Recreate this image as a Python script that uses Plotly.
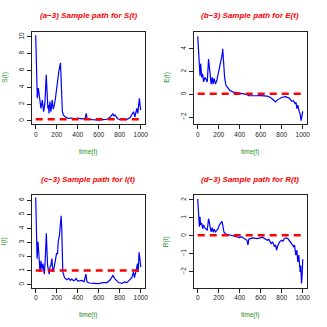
import plotly.graph_objects as go

# sample paths
s_time = [0, 6, 15, 25, 38, 50, 63, 75, 88, 100, 116, 122, 126, 135, 144, 157, 166, 176, 188, 201,
          210, 220, 236, 242, 248, 254, 264, 280, 311, 340, 377, 400, 414, 440, 470, 481, 490, 520, 560, 600,
          640, 680, 707, 720, 735, 745, 755, 780, 800, 830, 866, 899, 931, 945, 962, 972, 987, 997, 1000]
s_vals = [10.2, 5.9, 2.7, 3.9, 2.3, 1.5, 2.5, 1.1, 2.2, 5.5, 1.5, 1.9, 0.9, 2.3, 1.1, 2.5, 1.4, 1.8, 2.7, 4.3,
          4.7, 5.9, 6.9, 5.4, 3.5, 1.1, 0.7, 0.5, 0.3, 0.35, 0.25, 0.35, 0.3, 0.25, 0.3, 0.9, 0.2, 0.15, 0.12, 0.1,
          0.15, 0.2, 0.45, 0.6, 0.85, 0.6, 0.7, 0.3, 0.15, 0.2, 0.15, 0.4, 1.1, 0.5, 1.5, 0.9, 2.7, 1.5, 1.3]

e_time = [0, 9, 16, 22, 28, 38, 47, 56, 68, 81, 91, 103, 119, 128, 138, 147, 156, 169, 181, 194,
          206, 219, 231, 238, 244, 256, 269, 288, 306, 338, 384, 431, 462, 488, 520, 560, 600, 662, 690, 710,
          725, 741, 756, 778, 803, 834, 866, 897, 912, 928, 936, 944, 953, 966, 975, 984, 994, 1000]
e_vals = [5.1, 3.0, 2.7, 1.65, 2.7, 1.5, 1.8, 1.1, 1.5, 1.2, 1.1, 3.1, 1.2, 0.9, 1.5, 0.9, 1.4, 0.9, 1.2, 1.8,
          2.2, 2.7, 3.4, 4.0, 3.2, 1.5, 0.8, 0.6, 0.35, 0.2, 0.15, 0.06, 0.0, -0.1, -0.08, -0.12, -0.1, -0.15, -0.25, -0.4,
          -0.5, -0.65, -0.5, -0.35, -0.25, -0.2, -0.3, -0.6, -0.55, -0.85, -0.7, -1.25, -0.95, -1.5, -1.7, -2.3, -1.8, -1.5]

i_time = [0, 6, 13, 22, 31, 41, 50, 60, 69, 82, 92, 101, 113, 122, 129, 137, 145, 154, 163, 176,
          189, 198, 208, 214, 226, 236, 242, 248, 254, 258, 274, 296, 314, 330, 343, 360, 377, 385, 400, 420,
          440, 460, 478, 487, 510, 550, 600, 640, 679, 710, 725, 735, 750, 766, 788, 820, 850, 868, 893, 915,
          931, 940, 956, 969, 975, 984, 992, 1000]
i_vals = [6.2, 3.5, 1.85, 3.05, 1.5, 0.9, 1.7, 1.1, 1.5, 0.75, 2.0, 3.65, 1.35, 1.0, 0.75, 1.3, 1.4, 1.85, 0.9, 1.25,
          1.7, 2.2, 2.2, 3.05, 3.5, 4.25, 4.9, 4.0, 2.1, 0.9, 0.5, 0.35, 0.45, 0.3, 0.4, 0.28, 0.35, 0.45, 0.25, 0.25,
          0.3, 0.2, 0.75, 0.2, 0.12, 0.1, 0.08, 0.15, 0.15, 0.35, 0.5, 0.65, 0.45, 0.35, 0.15, 0.1, 0.2, 0.15, 0.35, 0.5,
          0.9, 0.5, 1.0, 1.5, 0.9, 2.3, 1.85, 1.25]

r_time = [0, 9, 16, 22, 28, 38, 47, 56, 66, 81, 91, 103, 119, 128, 138, 147, 156, 169, 181, 194,
          206, 219, 231, 238, 250, 269, 291, 322, 353, 384, 400, 416, 447, 469, 478, 487, 522, 569, 616, 663,
          678, 700, 712, 731, 741, 750, 762, 781, 800, 812, 825, 844, 862, 881, 897, 913, 922, 934, 944, 953,
          962, 975, 981, 988, 994, 1000]
r_vals = [2.05, 0.87, 0.5, 1.05, 0.6, 0.7, 0.4, 0.6, 0.45, 0.37, 0.3, 0.95, 0.3, 0.22, 0.45, 0.2, 0.37, 0.22, 0.3, 0.4,
          0.6, 0.7, 0.8, 0.6, 0.2, 0.1, 0.07, 0.03, 0.0, -0.05, -0.1, -0.05, -0.15, -0.25, -0.5, -0.18, -0.12, -0.15, -0.08, -0.25,
          -0.2, -0.43, -0.33, -0.6, -0.5, -0.8, -0.55, -0.33, -0.25, -0.3, -0.15, -0.12, -0.18, -0.33, -0.43, -0.6, -0.52, -1.07, -0.8, -1.45,
          -1.07, -2.0, -1.65, -2.65, -2.2, -1.3]

eq_levels = [0.2, 0.06, 1.0, 0.03]
titles = ["(a\u22123) Sample path for S(t)", "(b\u22123) Sample path for E(t)",
          "(c\u22123) Sample path for I(t)", "(d\u22123) Sample path for R(t)"]
y_labels = ["S(t)", "E(t)", "I(t)", "R(t)"]
x_ticks = [0, 200, 400, 600, 800, 1000]
y_ticks = [[0, 2, 4, 6, 8, 10], [-2, 0, 2, 4], [0, 1, 2, 3, 4, 5, 6], [-2, -1, 0, 1, 2]]
y_ranges = [[-0.36, 10.6], [-2.6, 5.5], [-0.2, 6.35], [-2.87, 2.25]]

paths = [(s_time, s_vals), (e_time, e_vals), (i_time, i_vals), (r_time, r_vals)]
for t, v in paths:
    assert len(t) == len(v)

W = 327.0
panel = W / 2
box_l, box_r, box_t, box_b = 31.8, 146.3, 31.8, 124.0

fig = go.Figure()
layout = dict(width=327, height=327, margin=dict(l=0, r=0, t=0, b=0),
              paper_bgcolor="white", plot_bgcolor="white", showlegend=False,
              font=dict(family="Liberation Sans, Arial, sans-serif"))
annotations = []

for k, (t, v) in enumerate(paths):
    row, col = divmod(k, 2)
    ox, oy = col * panel, row * panel
    n = "" if k == 0 else str(k + 1)
    xa, ya = "x" + n, "y" + n

    fig.add_trace(go.Scatter(x=t, y=v, mode="lines", xaxis=xa, yaxis=ya,
                             line=dict(color="#0000FF", width=1.2)))
    fig.add_trace(go.Scatter(x=[t[0], t[-1]], y=[eq_levels[k]] * 2, mode="lines",
                             xaxis=xa, yaxis=ya,
                             line=dict(color="#FF0000", width=2.5, dash="7px,5px")))

    common = dict(showline=True, mirror=True, linecolor="#222", linewidth=1,
                  ticks="outside", ticklen=4, tickcolor="#222", tickwidth=1,
                  tickfont=dict(size=6.5, color="#222"), showgrid=False, zeroline=False)
    layout["xaxis" + n] = dict(common, domain=[(ox + box_l) / W, (ox + box_r) / W],
                               range=[-40, 1040], tickvals=x_ticks, anchor=ya)
    layout["yaxis" + n] = dict(common, domain=[1 - (oy + box_b) / W, 1 - (oy + box_t) / W],
                               range=y_ranges[k], tickvals=y_ticks[k], tickangle=-90,
                               anchor=xa)

    cx = (ox + (box_l + box_r) / 2) / W
    annotations.append(dict(text="<b><i>" + titles[k] + "</i></b>", x=cx, y=1 - (oy + 16) / W,
                            xref="paper", yref="paper", showarrow=False,
                            xanchor="center", yanchor="middle",
                            font=dict(size=8, color="#FF0000")))
    annotations.append(dict(text="time(t)", x=cx, y=1 - (oy + 151.5) / W,
                            xref="paper", yref="paper", showarrow=False,
                            xanchor="center", yanchor="middle",
                            font=dict(size=6.5, color="#228B22")))
    annotations.append(dict(text=y_labels[k], x=(ox + 4.8) / W,
                            y=1 - (oy + (box_t + box_b) / 2) / W,
                            xref="paper", yref="paper", showarrow=False, textangle=-90,
                            xanchor="center", yanchor="middle",
                            font=dict(size=6.5, color="#228B22")))

layout["annotations"] = annotations
fig.update_layout(**layout)
fig.write_html("out.html", config={"displayModeBar": False},
               post_script="document.body.style.margin='0';")
